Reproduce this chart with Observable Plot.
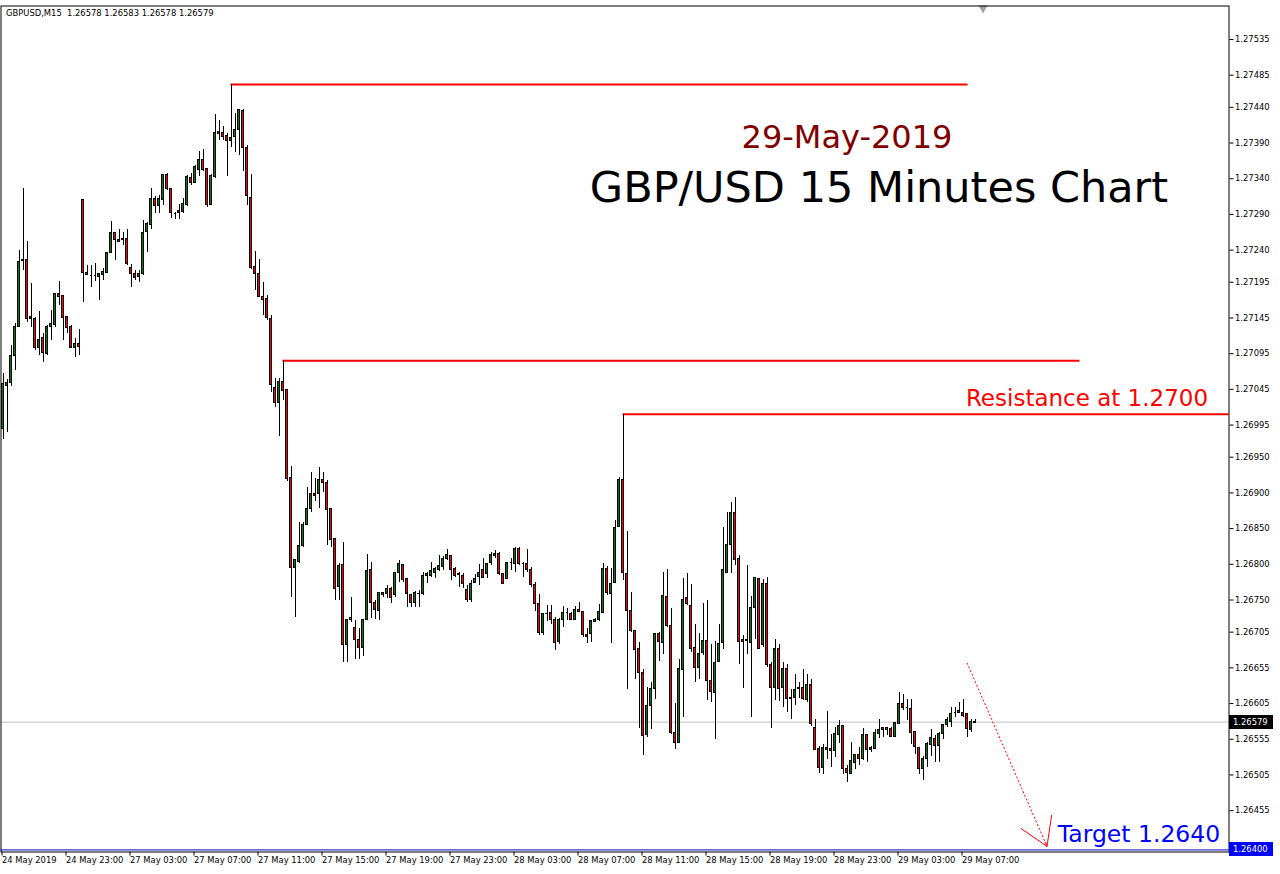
<!DOCTYPE html>
<html><head><meta charset="utf-8">
<script src="https://cdn.jsdelivr.net/npm/d3@7"></script>
<script src="https://cdn.jsdelivr.net/npm/@observablehq/plot@0.6"></script>
<style>
html,body{margin:0;padding:0;background:#fff;}
#chart svg{display:block;}
</style></head><body><div id="chart"></div>
<script>
const open=[1.26989,1.27050,1.27054,1.27092,1.27132,1.27225,1.27226,1.27144,1.27144,1.27103,
1.27117,1.27094,1.27132,1.27135,1.27178,1.27176,1.27146,1.27132,1.27103,1.27108,
1.27310,1.27208,1.27205,1.27205,1.27202,1.27205,1.27208,1.27236,1.27264,1.27254,
1.27254,1.27255,1.27215,1.27206,1.27202,1.27206,1.27266,1.27275,1.27312,1.27302,
1.27310,1.27345,1.27325,1.27292,1.27295,1.27294,1.27303,1.27341,1.27334,1.27352,
1.27366,1.27353,1.27303,1.27342,1.27403,1.27404,1.27400,1.27393,1.27398,1.27408,
1.27435,1.27383,1.27313,1.27216,1.27206,1.27175,1.27171,1.27143,1.27047,1.27026,
1.27056,1.27044,1.26921,1.26795,1.26803,1.26826,1.26855,1.26878,1.26899,1.26898,
1.26918,1.26914,1.26877,1.26835,1.26768,1.26799,1.26687,1.26722,1.26711,1.26694,
1.26683,1.26722,1.26792,1.26746,1.26735,1.26757,1.26758,1.26765,1.26757,1.26788,
1.26799,1.26779,1.26757,1.26746,1.26759,1.26759,1.26783,1.26783,1.26788,1.26792,
1.26796,1.26807,1.26811,1.26794,1.26785,1.26784,1.26764,1.26750,1.26774,1.26782,
1.26792,1.26786,1.26802,1.26812,1.26815,1.26786,1.26780,1.26802,1.26801,1.26821,
1.26801,1.26801,1.26792,1.26771,1.26744,1.26704,1.26730,1.26732,1.26722,1.26691,
1.26722,1.26732,1.26731,1.26722,1.26736,1.26733,1.26701,1.26703,1.26719,1.26722,
1.26732,1.26794,1.26759,1.26774,1.26852,1.26918,1.26787,1.26735,1.26706,1.26681,
1.26648,1.26561,1.26601,1.26626,1.26702,1.26690,1.26754,1.26713,1.26564,1.26550,
1.26652,1.26753,1.26742,1.26683,1.26655,1.26676,1.26692,1.26636,1.26620,1.26663,
1.26690,1.26788,1.26827,1.26872,1.26808,1.26694,1.26692,1.26690,1.26739,1.26779,
1.26687,1.26773,1.26659,1.26627,1.26681,1.26627,1.26653,1.26612,1.26613,1.26626,
1.26627,1.26610,1.26631,1.26571,1.26541,1.26515,1.26543,1.26539,1.26539,1.26561,
1.26573,1.26513,1.26507,1.26522,1.26533,1.26527,1.26561,1.26540,1.26542,1.26562,
1.26568,1.26571,1.26569,1.26558,1.26577,1.26604,1.26599,1.26597,1.26565,1.26543,
1.26513,1.26527,1.26547,1.26556,1.26545,1.26563,1.26575,1.26579,1.26593,1.26592,
1.26592,1.26590,1.26568,1.26578];
const high=[1.27067,1.27059,1.27107,1.27137,1.27240,1.27326,1.27252,1.27193,1.27145,1.27154,
1.27123,1.27135,1.27156,1.27179,1.27196,1.27177,1.27146,1.27134,1.27116,1.27129,
1.27310,1.27219,1.27218,1.27221,1.27207,1.27214,1.27237,1.27280,1.27265,1.27269,
1.27265,1.27269,1.27220,1.27212,1.27211,1.27282,1.27278,1.27326,1.27315,1.27317,
1.27346,1.27347,1.27327,1.27293,1.27304,1.27312,1.27345,1.27347,1.27359,1.27378,
1.27381,1.27355,1.27346,1.27430,1.27422,1.27413,1.27404,1.27472,1.27432,1.27437,
1.27437,1.27387,1.27346,1.27238,1.27227,1.27194,1.27176,1.27149,1.27060,1.27060,
1.27085,1.27045,1.26937,1.26807,1.26859,1.26859,1.26908,1.26928,1.26920,1.26936,
1.26928,1.26918,1.26877,1.26836,1.26801,1.26830,1.26723,1.26754,1.26722,1.26710,
1.26723,1.26814,1.26802,1.26749,1.26761,1.26761,1.26771,1.26768,1.26789,1.26806,
1.26800,1.26780,1.26757,1.26762,1.26764,1.26789,1.26789,1.26802,1.26796,1.26813,
1.26811,1.26821,1.26813,1.26795,1.26789,1.26787,1.26771,1.26778,1.26786,1.26800,
1.26808,1.26800,1.26816,1.26820,1.26816,1.26786,1.26803,1.26808,1.26823,1.26823,
1.26802,1.26821,1.26795,1.26774,1.26758,1.26731,1.26743,1.26743,1.26725,1.26724,
1.26741,1.26738,1.26732,1.26741,1.26747,1.26734,1.26710,1.26722,1.26724,1.26744,
1.26801,1.26797,1.26794,1.26862,1.26921,1.27010,1.26846,1.26760,1.26706,1.26691,
1.26652,1.26628,1.26635,1.26703,1.26704,1.26788,1.26793,1.26738,1.26605,1.26666,
1.26780,1.26787,1.26772,1.26716,1.26703,1.26745,1.26749,1.26687,1.26692,1.26716,
1.26852,1.26872,1.26886,1.26894,1.26813,1.26700,1.26799,1.26755,1.26781,1.26780,
1.26779,1.26781,1.26663,1.26695,1.26688,1.26662,1.26659,1.26625,1.26645,1.26634,
1.26652,1.26645,1.26639,1.26582,1.26545,1.26547,1.26594,1.26561,1.26571,1.26581,
1.26574,1.26518,1.26550,1.26534,1.26543,1.26570,1.26561,1.26545,1.26568,1.26583,
1.26572,1.26572,1.26571,1.26579,1.26620,1.26618,1.26610,1.26611,1.26566,1.26544,
1.26531,1.26551,1.26568,1.26560,1.26565,1.26576,1.26585,1.26599,1.26599,1.26607,
1.26610,1.26591,1.26582,1.26583];
const low=[1.26975,1.26985,1.27049,1.27072,1.27131,1.27212,1.27139,1.27131,1.27100,1.27093,
1.27082,1.27092,1.27114,1.27132,1.27163,1.27113,1.27123,1.27102,1.27089,1.27092,
1.27166,1.27204,1.27187,1.27196,1.27169,1.27198,1.27207,1.27235,1.27226,1.27250,
1.27247,1.27219,1.27187,1.27197,1.27195,1.27205,1.27236,1.27269,1.27292,1.27292,
1.27303,1.27324,1.27284,1.27283,1.27283,1.27292,1.27301,1.27331,1.27333,1.27343,
1.27350,1.27300,1.27302,1.27341,1.27394,1.27394,1.27343,1.27384,1.27377,1.27373,
1.27350,1.27303,1.27213,1.27184,1.27173,1.27149,1.27141,1.27040,1.27020,1.26979,
1.27030,1.26916,1.26754,1.26725,1.26801,1.26823,1.26854,1.26872,1.26888,1.26878,
1.26901,1.26827,1.26823,1.26750,1.26750,1.26662,1.26662,1.26719,1.26666,1.26666,
1.26671,1.26721,1.26724,1.26723,1.26722,1.26754,1.26752,1.26745,1.26754,1.26775,
1.26774,1.26739,1.26739,1.26740,1.26739,1.26757,1.26773,1.26781,1.26780,1.26790,
1.26792,1.26805,1.26778,1.26781,1.26767,1.26766,1.26747,1.26746,1.26773,1.26771,
1.26780,1.26780,1.26799,1.26808,1.26785,1.26772,1.26779,1.26791,1.26789,1.26799,
1.26782,1.26789,1.26767,1.26734,1.26700,1.26701,1.26720,1.26716,1.26679,1.26687,
1.26711,1.26722,1.26721,1.26721,1.26733,1.26697,1.26689,1.26690,1.26718,1.26720,
1.26731,1.26757,1.26689,1.26773,1.26851,1.26777,1.26624,1.26704,1.26639,1.26570,
1.26532,1.26557,1.26568,1.26611,1.26664,1.26673,1.26711,1.26562,1.26541,1.26549,
1.26586,1.26742,1.26677,1.26635,1.26638,1.26672,1.26609,1.26607,1.26554,1.26662,
1.26680,1.26787,1.26787,1.26799,1.26660,1.26626,1.26674,1.26585,1.26695,1.26680,
1.26683,1.26655,1.26570,1.26609,1.26608,1.26599,1.26592,1.26582,1.26602,1.26612,
1.26609,1.26606,1.26573,1.26539,1.26507,1.26505,1.26526,1.26515,1.26530,1.26549,
1.26505,1.26494,1.26506,1.26512,1.26518,1.26525,1.26523,1.26536,1.26541,1.26556,
1.26557,1.26560,1.26557,1.26557,1.26576,1.26595,1.26581,1.26547,1.26533,1.26506,
1.26497,1.26516,1.26531,1.26522,1.26523,1.26555,1.26571,1.26571,1.26585,1.26591,
1.26585,1.26557,1.26564,1.26578];
const close=[1.27052,1.27054,1.27092,1.27132,1.27224,1.27226,1.27144,1.27146,1.27103,1.27114,
1.27096,1.27133,1.27136,1.27178,1.27174,1.27145,1.27131,1.27103,1.27108,1.27104,
1.27208,1.27205,1.27205,1.27205,1.27206,1.27209,1.27236,1.27264,1.27254,1.27251,
1.27255,1.27221,1.27206,1.27201,1.27206,1.27264,1.27277,1.27311,1.27302,1.27312,
1.27345,1.27325,1.27292,1.27292,1.27292,1.27304,1.27343,1.27334,1.27356,1.27366,
1.27352,1.27303,1.27344,1.27404,1.27406,1.27399,1.27393,1.27397,1.27408,1.27436,
1.27383,1.27316,1.27215,1.27206,1.27174,1.27170,1.27145,1.27051,1.27026,1.27056,
1.27043,1.26920,1.26795,1.26806,1.26826,1.26855,1.26878,1.26899,1.26895,1.26918,
1.26914,1.26876,1.26834,1.26766,1.26797,1.26687,1.26722,1.26725,1.26694,1.26683,
1.26722,1.26790,1.26746,1.26736,1.26760,1.26760,1.26765,1.26753,1.26788,1.26800,
1.26778,1.26758,1.26746,1.26760,1.26758,1.26783,1.26786,1.26790,1.26793,1.26798,
1.26807,1.26813,1.26792,1.26784,1.26786,1.26772,1.26750,1.26772,1.26780,1.26788,
1.26781,1.26800,1.26813,1.26815,1.26787,1.26773,1.26802,1.26802,1.26821,1.26801,
1.26801,1.26792,1.26771,1.26744,1.26704,1.26730,1.26731,1.26722,1.26690,1.26722,
1.26732,1.26732,1.26722,1.26736,1.26733,1.26701,1.26698,1.26721,1.26722,1.26733,
1.26793,1.26760,1.26773,1.26851,1.26918,1.26788,1.26735,1.26707,1.26680,1.26648,
1.26560,1.26601,1.26626,1.26702,1.26691,1.26755,1.26713,1.26564,1.26550,1.26653,
1.26750,1.26744,1.26681,1.26655,1.26675,1.26692,1.26636,1.26621,1.26662,1.26688,
1.26792,1.26827,1.26872,1.26806,1.26691,1.26691,1.26694,1.26739,1.26781,1.26681,
1.26773,1.26659,1.26627,1.26682,1.26625,1.26653,1.26612,1.26613,1.26624,1.26627,
1.26611,1.26631,1.26576,1.26540,1.26515,1.26543,1.26540,1.26541,1.26562,1.26573,
1.26513,1.26508,1.26524,1.26533,1.26528,1.26561,1.26540,1.26543,1.26564,1.26568,
1.26571,1.26568,1.26558,1.26578,1.26605,1.26599,1.26599,1.26564,1.26544,1.26514,
1.26527,1.26548,1.26557,1.26545,1.26563,1.26575,1.26582,1.26590,1.26593,1.26594,
1.26588,1.26570,1.26579,1.26579];

const xTickLabels=["24 May 2019","24 May 23:00","27 May 03:00","27 May 07:00","27 May 11:00","27 May 15:00","27 May 19:00","27 May 23:00","28 May 03:00","28 May 07:00","28 May 11:00","28 May 15:00","28 May 19:00","28 May 23:00","29 May 03:00","29 May 07:00"];
const yTickLabels=[1.27535,1.27485,1.27440,1.27390,1.27340,1.27290,1.27240,1.27195,1.27145,1.27095,1.27045,1.26995,1.26950,1.26900,1.26850,1.26800,1.26750,1.26705,1.26655,1.26605,1.26555,1.26505,1.26455];
const resistancePrice=[1.27472,1.27085,1.27010];
const resistanceFromBar=[57,70,155];
const resistanceToBar=[241.25,269.25,306.5];
const lastPrice=1.26579;
const targetPrice=1.26400;
const arrowStart={bar:241,price:1.26662};
const arrowEnd={bar:261,price:1.26405};
const infoText="GBPUSD,M15\u00a0 1.26578 1.26583 1.26578 1.26579";

const bars=open.map((o,i)=>({i,o,h:high[i],l:low[i],c:close[i]}));
const levels=resistancePrice.map((p,k)=>({p,from:resistanceFromBar[k],to:resistanceToBar[k]}));
const xTicks=xTickLabels.map((_,k)=>k*16);

const plot=Plot.plot({
  width:1280,height:874,
  marginLeft:0.5,marginRight:51.5,marginTop:5.5,marginBottom:22.5,
  x:{type:"linear",domain:[-0.5,306.5]},
  y:{domain:[1.263971,1.275819]},
  style:{fontFamily:"DejaVu Sans",fontSize:"8.4px",color:"black",background:"white",overflow:"visible"},
  marks:[
    Plot.ruleY([lastPrice],{stroke:"#c0c0c0"}),
    Plot.ruleY([targetPrice],{stroke:"#0000c0"}),
    Plot.ruleY(levels,{y:"p",x1:"from",x2:"to",stroke:"#ff0000",strokeWidth:2}),
    Plot.ruleX(bars,{x:"i",y1:"l",y2:"h",stroke:"black",shapeRendering:"crispEdges"}),
    Plot.rect(bars.filter(d=>d.o!==d.c),{x1:d=>d.i-0.25,x2:d=>d.i+0.25,y1:"o",y2:"c",fill:d=>d.c>d.o?"#008000":"#ff0000",stroke:"black",shapeRendering:"crispEdges"}),
    Plot.ruleY(bars.filter(d=>d.o===d.c),{y:"o",x1:d=>d.i-0.25,x2:d=>d.i+0.25,stroke:"black",shapeRendering:"crispEdges"}),
    Plot.link([0],{x1:()=>arrowStart.bar,y1:()=>arrowStart.price,x2:()=>arrowEnd.bar,y2:()=>arrowEnd.price,stroke:"#ff0000",strokeDasharray:"2,2"}),
    Plot.arrow([0],{x1:()=>arrowStart.bar,y1:()=>arrowStart.price,x2:()=>arrowEnd.bar,y2:()=>arrowEnd.price,stroke:"#ff0000",headLength:47,headAngle:64,strokeWidth:1,insetStart:196}),
    Plot.text(["29-May-2019"],{x:()=>211,y:()=>1.27398,fill:"#800000",fontSize:32,fontFamily:"DejaVu Sans"}),
    Plot.text(["GBP/USD 15 Minutes Chart"],{x:()=>219,y:()=>1.27326,fill:"black",fontSize:43,fontFamily:"DejaVu Sans"}),
    Plot.text(["Resistance at 1.2700"],{x:()=>271,y:()=>1.27032,fill:"#ff0000",fontSize:23,fontFamily:"DejaVu Sans"}),
    Plot.text(["Target 1.2640"],{x:()=>284,y:()=>1.26422,fill:"#0000ff",fontSize:23.5,fontFamily:"DejaVu Sans"}),
    Plot.text([infoText],{frameAnchor:"top-left",textAnchor:"start",lineAnchor:"middle",dx:5,dy:7.5,fill:"black"}),
    Plot.dot([245],{x:d=>d,frameAnchor:"top",symbol:"triangle",rotate:180,r:3.5,fill:"#a0a0a0",dy:2}),
    Plot.frame({stroke:"black"}),
    Plot.axisY({anchor:"right",ticks:yTickLabels,tickFormat:d=>d.toFixed(5),tickSize:4,tickPadding:2,label:null}),
    Plot.axisX({anchor:"bottom",ticks:xTicks,tickFormat:d=>xTickLabels[Math.round(d/16)],tickSize:4,tickPadding:1,textAnchor:"start",dx:-1,label:null})
  ]
});
document.getElementById("chart").appendChild(plot);

// price label boxes on the right axis, positioned with Plot's own scales
const ys=plot.scale("y"), xs=plot.scale("x");
const svg=d3.select(plot);
const left=xs.range[1]+0.5;
[[lastPrice,"black"],[targetPrice,"#0000ff"]].forEach(([p,c])=>{
  const y=ys.apply(p);
  svg.append("rect").attr("x",left).attr("y",Math.round(y)-7).attr("width",44).attr("height",14).attr("fill",c);
  svg.append("text").attr("x",left+4).attr("y",Math.round(y)).attr("dy","0.35em").attr("fill","white")
    .attr("text-anchor","start").attr("font-family","DejaVu Sans").attr("font-size","8.4px").text(p.toFixed(5));
});
</script></body></html>
